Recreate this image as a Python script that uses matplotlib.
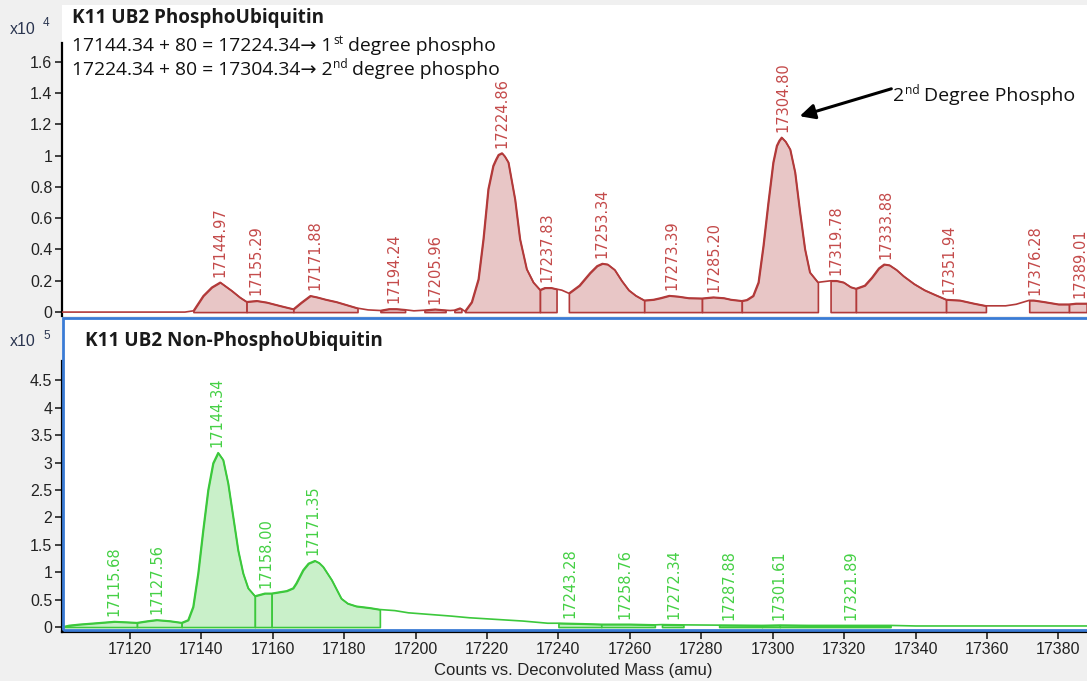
import numpy as np
import matplotlib
matplotlib.use('Agg')
import matplotlib.pyplot as plt
from matplotlib.patches import Rectangle, FancyArrowPatch

W, H = 1087, 681

# phosphorylated trace, counts x10^4
p_mass = [17100, 17135, 17137.4, 17140.2, 17142.6, 17145, 17148.3, 17150.6, 17152.5,
          17155.4, 17158.2, 17162, 17165.8, 17168, 17170.6, 17172.5, 17175, 17178, 17181,
          17184, 17187, 17190.5, 17193, 17195, 17197.5, 17200, 17203, 17206, 17209, 17210.3,
          17211.5, 17213.1, 17213.5, 17214.5, 17216.4, 17218.3, 17219.7, 17221.1, 17222.5,
          17223.3, 17224, 17225, 17225.8, 17226.8, 17228.7, 17230.1, 17232, 17233.9, 17235.8,
          17237.2, 17239, 17240.5, 17242, 17244, 17247, 17250, 17252, 17253.5, 17255, 17257,
          17259, 17261, 17263, 17265.4, 17268, 17270, 17272.5, 17275, 17278, 17281.8, 17285,
          17288, 17290, 17293.1, 17294.5, 17296.3, 17297.8, 17299.2, 17300.6, 17302, 17303,
          17303.7, 17304.4, 17305.5, 17306.8, 17308.2, 17309.6, 17311, 17312.4, 17314.7,
          17318.3, 17320, 17322, 17324, 17325.5, 17328, 17330, 17332, 17333.5, 17335, 17337,
          17339, 17342, 17345, 17348, 17351.1, 17355, 17359, 17362.4, 17368, 17371, 17374.7,
          17376, 17379, 17383, 17386, 17388, 17391]
p_int = [0, 0, 0.008, 0.104, 0.158, 0.19, 0.136, 0.094, 0.066,
         0.072, 0.062, 0.04, 0.019, 0.06, 0.104, 0.095, 0.08, 0.065, 0.045,
         0.025, 0.014, 0.01, 0.02, 0.02, 0.015, 0.008, 0.012, 0.018, 0.012, 0.01,
         0.012, 0.025, 0.02, 0.005, 0.064, 0.21, 0.466, 0.786, 0.935,
         0.975, 1.005, 1.016, 0.995, 0.957, 0.72, 0.466, 0.275, 0.19, 0.142,
         0.155, 0.155, 0.147, 0.14, 0.12, 0.17, 0.25, 0.295, 0.31, 0.305, 0.27,
         0.2, 0.14, 0.105, 0.075, 0.08, 0.09, 0.105, 0.10, 0.09, 0.088, 0.095,
         0.09, 0.08, 0.072, 0.078, 0.104, 0.19, 0.424, 0.70, 0.957, 1.063,
         1.095, 1.116, 1.09, 1.04, 0.893, 0.637, 0.403, 0.254, 0.19,
         0.2, 0.2, 0.19, 0.16, 0.15, 0.17, 0.22, 0.28, 0.305, 0.3, 0.27,
         0.23, 0.18, 0.14, 0.11, 0.08, 0.075, 0.055, 0.04, 0.04, 0.05, 0.075,
         0.075, 0.065, 0.05, 0.05, 0.055, 0.055]
p_segs = [(17137.4, 17152.5), (17152.5, 17165.8), (17165.8, 17184), (17190.5, 17197.5),
          (17203, 17209), (17211.5, 17213.5), (17214.5, 17235.8), (17235.8, 17240.5),
          (17244, 17265.4), (17265.4, 17281.8), (17281.8, 17293.1), (17293.1, 17314.7),
          (17318.3, 17325.5), (17325.5, 17351.1), (17351.1, 17362.4), (17374.7, 17386),
          (17386, 17391)]
p_peaks = [17144.97, 17155.29, 17171.88, 17194.24, 17205.96, 17224.86, 17237.83, 17253.34,
           17273.39, 17285.20, 17304.80, 17319.78, 17333.88, 17351.94, 17376.28, 17389.01]

# non-phosphorylated trace, counts x10^5
n_mass = [17101, 17103, 17106, 17110, 17115.7, 17119, 17122, 17125, 17127.5, 17131.2, 17134.5,
          17136.3, 17137.7, 17139.1, 17140.5, 17141.9, 17143.3, 17144.7, 17146.1, 17147.5,
          17148.9, 17150.3, 17151.7, 17153.1, 17155, 17157.8, 17159.7, 17162.5, 17163.9,
          17165.7, 17166.6, 17168.5, 17170, 17171.8, 17173, 17174.1, 17176.5, 17179.2, 17181,
          17183.4, 17187.2, 17190, 17194.2, 17198, 17202, 17206, 17210, 17215, 17220, 17230,
          17237, 17240, 17247, 17252, 17260, 17267, 17269, 17275, 17285, 17297, 17302, 17310,
          17320, 17333, 17340, 17360, 17388]
n_int = [0.0, 0.03, 0.05, 0.07, 0.10, 0.09, 0.08, 0.11, 0.13, 0.11, 0.08,
         0.128, 0.37, 0.98, 1.77, 2.5, 2.99, 3.18, 3.05, 2.62,
         2.01, 1.4, 0.98, 0.71, 0.566, 0.615, 0.615, 0.645, 0.66,
         0.71, 0.8, 1.04, 1.16, 1.21, 1.17, 1.1, 0.86, 0.52, 0.43,
         0.38, 0.35, 0.32, 0.3, 0.26, 0.24, 0.22, 0.2, 0.17, 0.15, 0.11,
         0.07, 0.07, 0.06, 0.05, 0.05, 0.04, 0.045, 0.04, 0.035, 0.03, 0.035, 0.03,
         0.03, 0.03, 0.02, 0.02, 0.02]
n_segs = [(17101, 17122), (17122, 17134.5), (17134.5, 17155), (17155, 17159.7),
          (17159.7, 17190), (17240, 17252), (17252, 17267), (17269, 17275),
          (17285, 17297), (17297, 17302), (17302, 17333)]
n_peaks = [17115.68, 17127.56, 17144.34, 17158.00, 17171.35, 17243.28, 17258.76,
           17272.34, 17287.88, 17301.61, 17321.89]

p_yticks = [0, 0.2, 0.4, 0.6, 0.8, 1.0, 1.2, 1.4, 1.6]
p_ylabels = ['0', '0.2', '0.4', '0.6', '0.8', '1', '1.2', '1.4', '1.6']
n_yticks = [0, 0.5, 1, 1.5, 2, 2.5, 3, 3.5, 4, 4.5]
n_ylabels = ['0', '0.5', '1', '1.5', '2', '2.5', '3', '3.5', '4', '4.5']
x_ticks = [17120, 17140, 17160, 17180, 17200, 17220, 17240, 17260, 17280, 17300,
           17320, 17340, 17360, 17380]

RED, PINK, RED_TXT = '#b23a3a', '#e8c6c6', '#c44a4a'
GREEN, LGREEN, GREEN_TXT = '#3cc83c', '#c9f0c9', '#44d044'
TICKC = '#222222'
LBL = 'Liberation Sans'


def fx(px):
    return px / W


def fy(py):
    return 1 - py / H


def draw_trace(ax, mass, inten, segs, peaks, line_c, fill_c, txt_c):
    x = np.array(mass)
    y = np.array(inten)
    ax.plot(x, y, color=line_c, lw=1.2, zorder=3)
    for a, b in segs:
        m = (x >= a) & (x <= b)
        ax.fill_between(x[m], 0, y[m], facecolor=fill_c, edgecolor=line_c, lw=1.2, zorder=2)
    for pk in peaks:
        near = np.abs(x - pk) <= 2.5
        h = y[near].max() if near.any() else np.interp(pk, x, y)
        ax.annotate(f'{pk:.2f}', (pk, h), xytext=(0, 4), textcoords='offset points',
                    rotation=90, ha='center', va='bottom', color=txt_c, fontsize=10.5,
                    family='DejaVu Sans', annotation_clip=False, zorder=4)


def style_axis(ax, yticks, ylabels, bounds):
    for s in ['top', 'right', 'bottom']:
        ax.spines[s].set_visible(False)
    ax.spines['left'].set_color('black')
    ax.spines['left'].set_linewidth(1.6)
    ax.spines['left'].set_bounds(*bounds)
    ax.set_yticks(yticks, ylabels)
    ax.tick_params(axis='y', direction='out', length=5, width=1.2, color=TICKC,
                   labelsize=11.5, labelcolor=TICKC, pad=2)
    for t in ax.get_yticklabels():
        t.set_family(LBL)


fig = plt.figure(figsize=(W / 100, H / 100), dpi=100, facecolor='#f0f0f0')

# top panel
ax1 = fig.add_axes([fx(62), fy(316), 1 - fx(62), 311 / H], facecolor='white')
ax1.set_xlim(17100.1, 17391.1)
ax1.set_ylim(-0.025, 1.962)
style_axis(ax1, p_yticks, p_ylabels, (-0.025, 1.72))
ax1.set_xticks([])
draw_trace(ax1, p_mass, p_int, p_segs, p_peaks, RED, PINK, RED_TXT)

# bottom panel
ax2 = fig.add_axes([fx(62), fy(632), 1 - fx(62), (632 - 319) / H], facecolor='white')
ax2.set_xlim(17101, 17388)
ax2.set_ylim(-0.09, 5.62)
style_axis(ax2, n_yticks, n_ylabels, (-0.09, 4.85))
ax2.spines['bottom'].set_visible(True)
ax2.spines['bottom'].set_color('black')
ax2.spines['bottom'].set_linewidth(1.6)
ax2.set_xticks(x_ticks, [str(v) for v in x_ticks])
ax2.tick_params(axis='x', direction='out', length=5, width=1.2, color=TICKC,
                labelsize=11.5, labelcolor=TICKC, pad=2)
for t in ax2.get_xticklabels():
    t.set_family(LBL)
draw_trace(ax2, n_mass, n_int, n_segs, n_peaks, GREEN, LGREEN, GREEN_TXT)

# blue selection frame round the lower panel
fig.patches.append(Rectangle((fx(63), fy(630)), 1.0, (630 - 318) / H, transform=fig.transFigure,
                             fill=False, edgecolor='#3a7bd5', lw=2, zorder=5))

fig.text(fx(573), fy(671), 'Counts vs. Deconvoluted Mass (amu)', ha='center', va='center',
         fontsize=12, family=LBL, color=TICKC)
fig.text(fx(10), fy(29), 'x10', ha='left', va='center', fontsize=11.5, family=LBL, color='#2a3550')
fig.text(fx(43), fy(23), '4', ha='left', va='center', fontsize=8.5, family=LBL, color='#2a3550')
fig.text(fx(10), fy(342), 'x10', ha='left', va='center', fontsize=11.5, family=LBL, color='#2a3550')
fig.text(fx(43), fy(336), '5', ha='left', va='center', fontsize=8.5, family=LBL, color='#2a3550')

fig.text(fx(72), fy(18), 'K11 UB2 PhosphoUbiquitin', ha='left', va='center', fontsize=13.6,
         family='Open Sans', weight='bold', color='#1a1a1a')
fig.text(fx(85), fy(341), 'K11 UB2 Non-PhosphoUbiquitin', ha='left', va='center', fontsize=13.6,
         family='Open Sans', weight='bold', color='#1a1a1a')

fig.canvas.draw()
renderer = fig.canvas.get_renderer()
NOTE = ['Open Sans', 'DejaVu Sans']


def rich_line(xpx, ypx, parts, size):
    # parts: (text, superscript?, gap before in px)
    for s, sup, gap in parts:
        xpx += gap
        t = fig.text(fx(xpx), fy(ypx - (7 if sup else 0)), s, ha='left', va='baseline',
                     fontsize=size * (0.62 if sup else 1), family=NOTE, color='#111111')
        xpx += t.get_window_extent(renderer).width


rich_line(72, 51, [('17144.34 + 80 = 17224.34\u2192 1', False, 0), ('st', True, 0.5),
                   ('degree phospho', False, 4.5)], 13.9)
rich_line(72, 75, [('17224.34 + 80 = 17304.34\u2192 2', False, 0), ('nd', True, 0.5),
                   ('degree phospho', False, 4.5)], 13.9)
rich_line(893, 101, [('2', False, 0), ('nd', True, 0.5), ('Degree Phospho', False, 4.5)], 14)

fig.patches.append(FancyArrowPatch(
    (fx(894), fy(88)), (fx(797), fy(117)), transform=fig.transFigure,
    arrowstyle='-|>,head_length=9,head_width=4.5', lw=2.2, color='black', zorder=6))

fig.savefig('out.png', dpi=100, facecolor=fig.get_facecolor())
